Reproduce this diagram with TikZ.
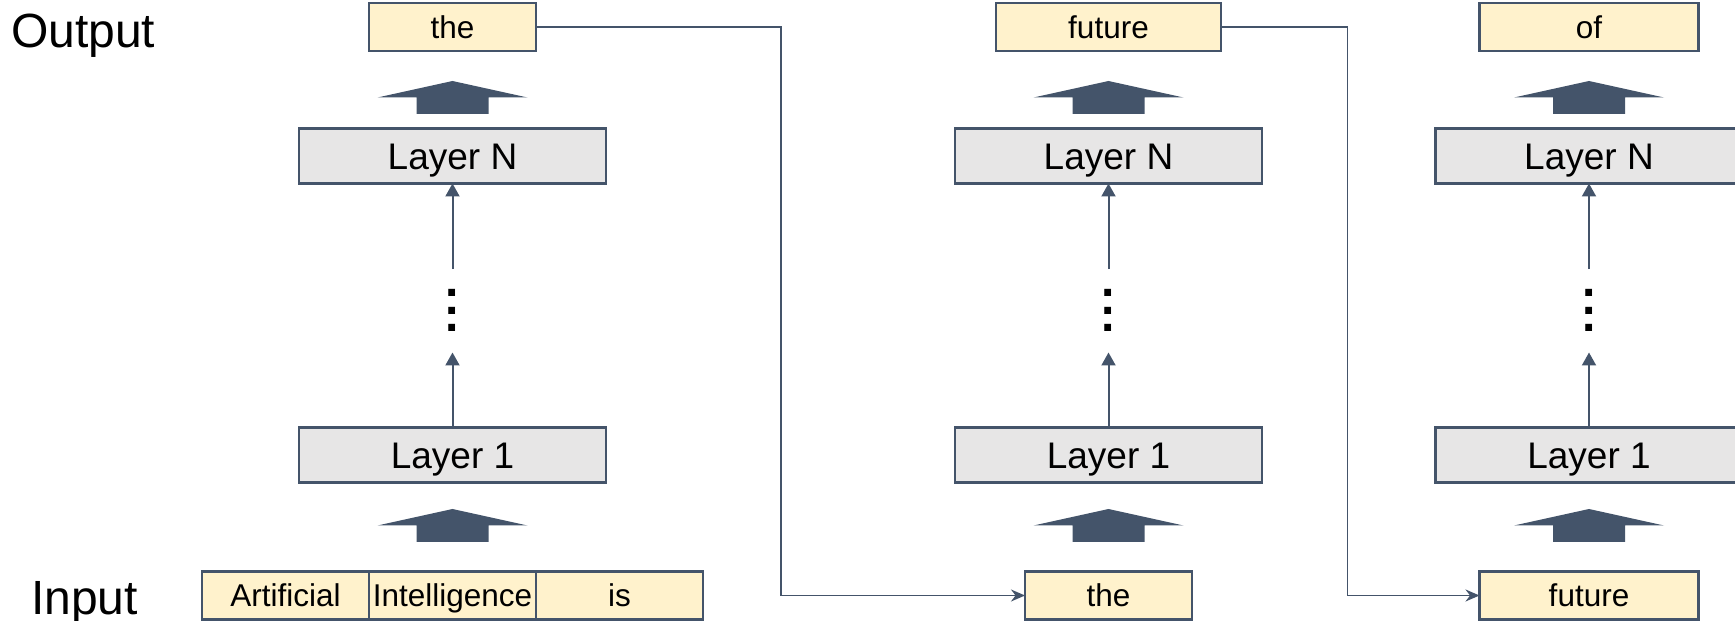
\documentclass[tikz,border=0pt]{standalone}
\usepackage{fontspec}
\setmainfont{Liberation Sans}
\usetikzlibrary{positioning,calc,arrows.meta}
\definecolor{slate}{HTML}{44546A}
\definecolor{wordfill}{HTML}{FFF2CC}
\definecolor{layerfill}{HTML}{E7E6E6}
\begin{document}
\begin{tikzpicture} [x=1pt, y=1pt,
    word/.style={draw=slate, fill=wordfill, line width=2.2pt, outer sep=0pt, inner sep=0pt,
      minimum width=167pt, minimum height=48pt, text height=22.5pt, text depth=0pt,
      font=\fontsize{31.5}{31.5}\selectfont},
    layer/.style={draw=slate, fill=layerfill, line width=2.2pt, outer sep=0pt, inner sep=0pt,
      minimum width=307pt, minimum height=55pt, text height=26.5pt, text depth=0pt,
      font=\fontsize{37}{37}\selectfont},
    rowname/.style={anchor=west, inner sep=0pt, text height=34.4pt, text depth=0pt,
      font=\fontsize{48}{48}\selectfont},
    ellip/.style={inner sep=0pt, minimum height=83pt, align=center,
      font=\fontsize{48}{17.5}\selectfont\bfseries},
    up/.style={draw=slate, line width=2pt, -{Triangle[length=13pt, width=14pt]}},
    feed/.style={draw=slate, line width=1.6pt, -{Stealth[length=14pt, width=12pt]}},
    fatarrow/.pic={\fill[slate] (-36,-16.5) -- (36,-16.5) -- (36,0) -- (75,0)
      -- (0,16.5) -- (-75,0) -- (-36,0) -- cycle;}]
  \useasboundingbox (0,0) rectangle (1735,621);
  % place nodes
  \node [layer] (first1) at (452.5,166) {Layer 1};
  \node [layer] (first2) at (1108.5,166) {Layer 1};
  \node [layer] (first3) at (1589,166) {Layer 1};
  \node [layer, above=244pt of first1] (last1) {Layer N};
  \node [layer, above=244pt of first2] (last2) {Layer N};
  \node [layer, above=244pt of first3] (last3) {Layer N};
  \node [ellip, above=75pt of first1] (dots1) {.\\.\\.};
  \node [ellip, above=75pt of first2] (dots2) {.\\.\\.};
  \node [ellip, above=75pt of first3] (dots3) {.\\.\\.};
  \node [word, above=77.5pt of last1] (out1) {the};
  \node [word, minimum width=225pt, above=77.5pt of last2] (out2) {future};
  \node [word, minimum width=219pt, above=77.5pt of last3] (out3) {of};
  \node [word, below=89pt of first1] (in1b) {Intelligence};
  \node [word, left=0pt of in1b] (in1a) {Artificial};
  \node [word, right=0pt of in1b] (in1c) {is};
  \node [word, below=89pt of first2] (in2) {the};
  \node [word, minimum width=219pt, below=89pt of first3] (in3) {future};
  \node [rowname] (outtag) at (11,591) {Output};
  \node [rowname] (intag) at (31,24) {Input};
  % block arrows
  \pic at ($(last1.north)+(0,31)$) {fatarrow};
  \pic at ($(last2.north)+(0,31)$) {fatarrow};
  \pic at ($(last3.north)+(0,31)$) {fatarrow};
  \pic at ($(in1b.north)+(0,46)$) {fatarrow};
  \pic at ($(in2.north)+(0,46)$) {fatarrow};
  \pic at ($(in3.north)+(0,46)$) {fatarrow};
  % draw edges
  \draw [up] (first1) -- (dots1);
  \draw [up] (dots1) -- (last1);
  \draw [up] (first2) -- (dots2);
  \draw [up] (dots2) -- (last2);
  \draw [up] (first3) -- (dots3);
  \draw [up] (dots3) -- (last3);
  % output fed back as next input
  \coordinate (turn1) at (781,300);
  \coordinate (turn2) at (1347.5,300);
  \draw [feed] (out1.east) -| (turn1) |- (in2.west);
  \draw [feed] (out2.east) -| (turn2) |- (in3.west);
\end{tikzpicture}
\end{document}
